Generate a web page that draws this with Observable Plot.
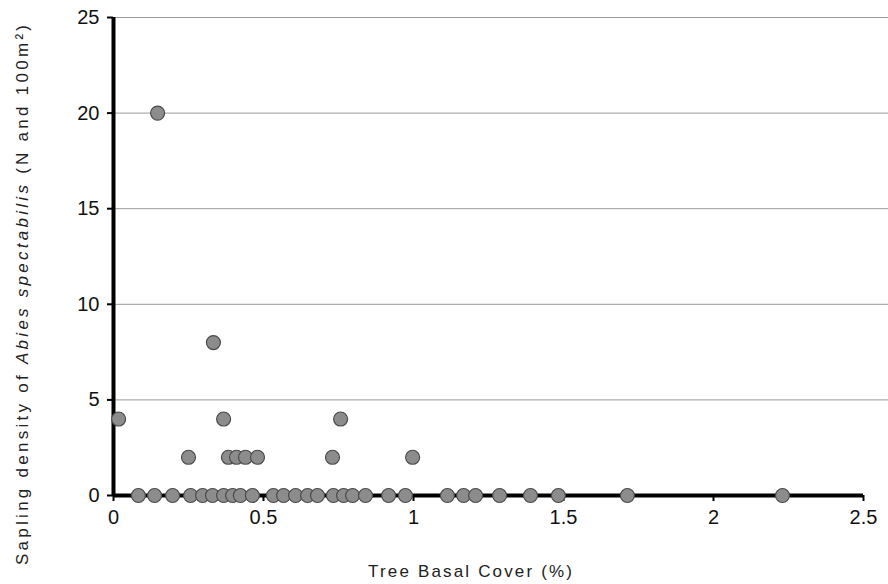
<!DOCTYPE html>
<html>
<head>
<meta charset="utf-8">
<script src="https://cdn.jsdelivr.net/npm/d3@7"></script>
<script src="https://cdn.jsdelivr.net/npm/@observablehq/plot@0.6"></script>
<style>
  html, body { margin: 0; padding: 0; background: #fff; }
  #chart { width: 888px; height: 584px; }
  svg { font-family: "Liberation Sans", Arial, sans-serif; }
</style>
</head>
<body>
<div id="chart"></div>
<script>
// Tree basal cover (%) for each plot
const basalCover = [
  0.083, 0.137, 0.197, 0.257, 0.297, 0.33, 0.367, 0.397, 0.423, 0.463,
  0.533, 0.567, 0.607, 0.647, 0.68, 0.733, 0.767, 0.797, 0.84, 0.917,
  0.973, 1.113, 1.167, 1.207, 1.287, 1.39, 1.483, 1.713, 2.23,
  0.017, 0.367, 0.757,
  0.25, 0.383, 0.41, 0.44, 0.48, 0.73, 0.997,
  0.333,
  0.147
];
// Sapling density for each plot
const saplingDensity = [
  0, 0, 0, 0, 0, 0, 0, 0, 0, 0,
  0, 0, 0, 0, 0, 0, 0, 0, 0, 0,
  0, 0, 0, 0, 0, 0, 0, 0, 0,
  4, 4, 4,
  2, 2, 2, 2, 2, 2, 2,
  8,
  20
];
const xTicks = [0, 0.5, 1, 1.5, 2, 2.5];
const yTicks = [0, 5, 10, 15, 20, 25];
const xLabel = "Tree Basal Cover (%)";

const points = basalCover.map((c, i) => ({cover: c, density: saplingDensity[i]}));

const chart = Plot.plot({
  width: 888,
  height: 584,
  marginLeft: 113,
  marginRight: 0,
  marginTop: 17,
  marginBottom: 89,
  style: {fontSize: "20px", fontFamily: "Liberation Sans, Arial, sans-serif", color: "#111"},
  x: {domain: [0, 2.5], range: [113, 863]},
  y: {domain: [0, 25]},
  marks: [
    Plot.gridY(yTicks.filter(d => d > 0), {stroke: "#999", strokeOpacity: 1, strokeWidth: 1}),
    Plot.axisY(yTicks, {tickSize: 6, tickPadding: 8, strokeWidth: 2, stroke: "#000", label: null, tickFormat: d => String(d)}),
    Plot.axisX(xTicks, {tickSize: 6, tickPadding: 8, strokeWidth: 2, stroke: "#000", label: null, tickFormat: d => String(d)}),
    Plot.ruleY([0], {x1: 0, x2: 2.5, stroke: "#000", strokeWidth: 4}),
    Plot.ruleX([0], {y1: 0, y2: 25, stroke: "#000", strokeWidth: 4}),
    Plot.dot(points, {x: "cover", y: "density", r: 7, fill: "#8c8c8c", stroke: "#4a4a4a", strokeWidth: 1.2})
  ]
});

const svg = d3.select(chart);
// x-axis title
svg.append("text")
  .attr("x", 470).attr("y", 577)
  .attr("text-anchor", "middle")
  .attr("font-size", 17)
  .attr("fill", "#222")
  .attr("textLength", 204)
  .attr("lengthAdjust", "spacing")
  .text(xLabel);

// y-axis title with italic species name
const t = svg.append("text")
  .attr("transform", "translate(28,295) rotate(-90)")
  .attr("text-anchor", "middle")
  .attr("font-size", 17)
  .attr("fill", "#222")
  .attr("textLength", 540)
  .attr("lengthAdjust", "spacing");
t.append("tspan").text("Sapling density of ");
t.append("tspan").attr("font-style", "italic").text("Abies spectabilis");
t.append("tspan").text(" (N and 100m²)");

document.getElementById("chart").appendChild(chart);
</script>
</body>
</html>
